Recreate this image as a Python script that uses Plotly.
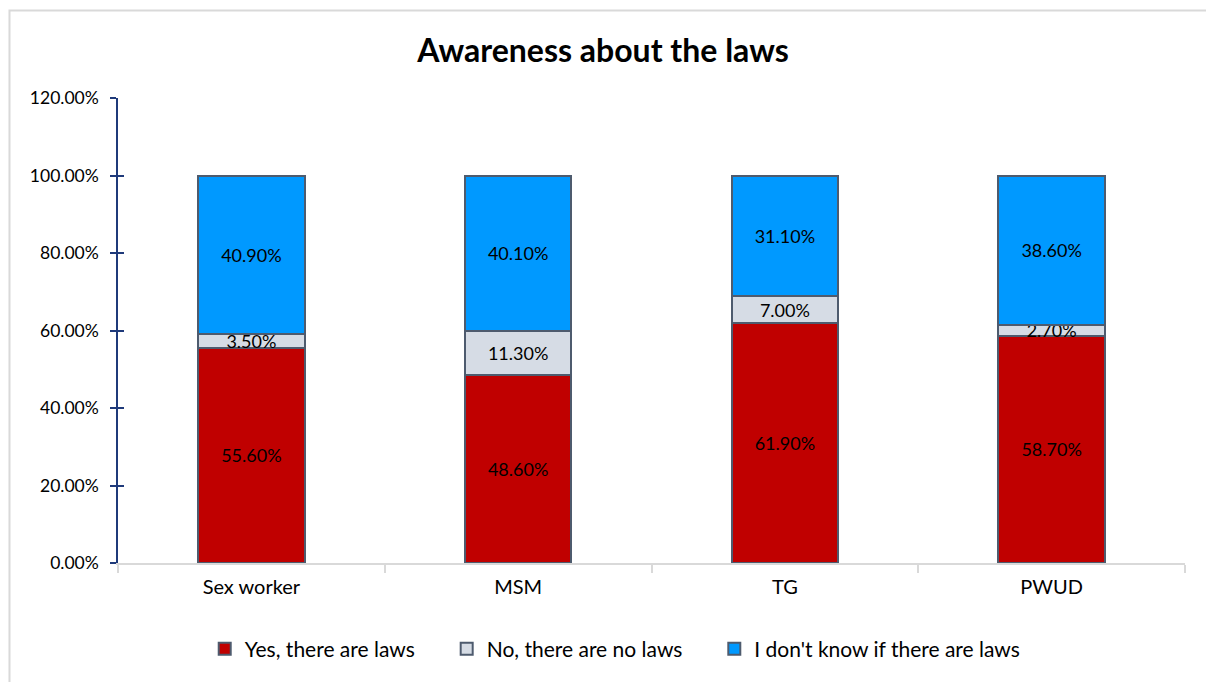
import plotly.graph_objects as go

categories = ["Sex worker", "MSM", "TG", "PWUD"]
yes_laws = [55.6, 48.6, 61.9, 58.7]
no_laws = [3.5, 11.3, 7.0, 2.7]
dont_know = [40.9, 40.1, 31.1, 38.6]
series_names = ["Yes, there are laws", "No, there are no laws", "I don't know if there are laws"]
series_colors = ["#C00000", "#D6DCE5", "#0099FF"]
y_ticks = [0, 20, 40, 60, 80, 100, 120]

FONT = "Lato"
PAD = "&nbsp;" * 5
fig = go.Figure()
for i, (name, vals, col) in enumerate(zip(series_names, [yes_laws, no_laws, dont_know], series_colors)):
    fig.add_trace(go.Bar(
        x=categories, y=vals, name=name + (PAD if i < 2 else ""),
        marker=dict(color=col, line=dict(color="#4E5B6E", width=2)),
        text=[f"{v:.2f}%" for v in vals],
        textposition="inside", insidetextanchor="middle", textangle=0,
        constraintext="none",
        textfont=dict(family=FONT, size=18, color="black"),
        width=0.4,
    ))

fig.update_layout(
    barmode="stack",
    width=1206, height=682,
    margin=dict(l=118, r=21, t=98, b=117),
    paper_bgcolor="white", plot_bgcolor="white",
    font=dict(family=FONT, size=18, color="black"),
    title=dict(text="<b>Awareness about the laws</b>", x=0.5, xanchor="center",
               y=0.926, yanchor="middle", font=dict(family=FONT, size=32, color="black")),
    uniformtext=dict(minsize=18, mode="show"),
    showlegend=True,
    legend=dict(orientation="h", x=0.466, xanchor="center", y=-0.185, yanchor="middle",
                font=dict(family=FONT, size=21), traceorder="normal"),
    xaxis=dict(type="category", showline=True, linecolor="#D9D9D9", linewidth=2,
               ticks="outside", tickson="boundaries", tickcolor="#D9D9D9", ticklen=8,
               tickwidth=2, showgrid=False, tickfont=dict(family=FONT, size=20),
               ticklabelstandoff=5),
    yaxis=dict(range=[0, 120], tickvals=y_ticks, ticktext=[f"{v:.2f}%" for v in y_ticks],
               showline=True, linecolor="#1F3A7A", linewidth=1.5, ticks="outside",
               ticklen=6, tickcolor="#1F3A7A", tickwidth=1.5, showgrid=False,
               zeroline=False, tickfont=dict(family=FONT, size=17.5), ticklabelstandoff=8),
    yaxis2=dict(range=[0, 120], tickvals=y_ticks, overlaying="y", side="left",
                showticklabels=False, ticks="inside", ticklen=6, tickcolor="#1F3A7A",
                tickwidth=1.5, showline=False, showgrid=False, zeroline=False),
)
fig.add_trace(go.Scatter(x=[categories[0]], y=[None], yaxis="y2", showlegend=False,
                         hoverinfo="skip", mode="markers"))
fig.add_shape(type="rect", xref="paper", yref="paper", x0=-0.1017, x1=1.2, y0=-0.4, y1=1.188,
              line=dict(color="#D9D9D9", width=2), fillcolor="rgba(0,0,0,0)", layer="below")
fig.write_html("out.html")
